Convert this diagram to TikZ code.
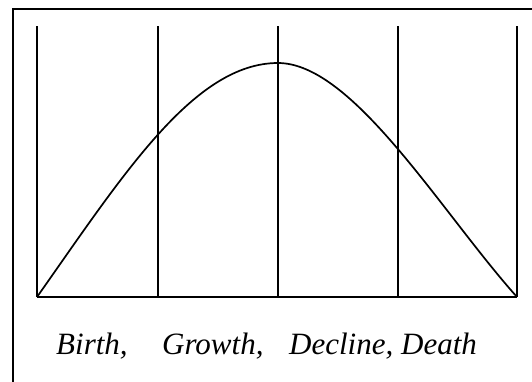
\documentclass[tikz,border=0pt]{standalone}
\usepackage{fontspec}
\setmainfont{Liberation Serif}
\begin{document}
\begin{tikzpicture}[x=1pt,y=-1pt,
  frameline/.style={line width=2pt},
  gridline/.style={line width=2pt},
  curveline/.style={line width=1.7pt},
  label/.style={anchor=base west,inner sep=0pt,font=\fontsize{31}{33}\selectfont\itshape}]
\useasboundingbox (0,0) rectangle (532,381);
\clip (0,0) rectangle (532,381);
\draw[frameline] (13,9) rectangle (545,400);
% vertical lines
\foreach \n/\x in {a/37,b/158,c/278,d/398,e/517}{
  \coordinate (top\n) at (\x,26);
  \coordinate (bot\n) at (\x,297);
  \draw[gridline] (top\n) -- (bot\n);
}
\draw[gridline] (bota) -- (bote);
\coordinate (peak) at (278,63);
\draw[curveline] (bota) .. controls (123,175) and (194,63) .. (peak)
  .. controls (353,63) and (441,212) .. (bote);
\node[label] (birth) at (56,354) {Birth,};
\node[label] (growth) at (162,354) {Growth,};
\node[label] (decline) at (289,354) {Decline,};
\node[label] (death) at (401,354) {Death};
\end{tikzpicture}
\end{document}
